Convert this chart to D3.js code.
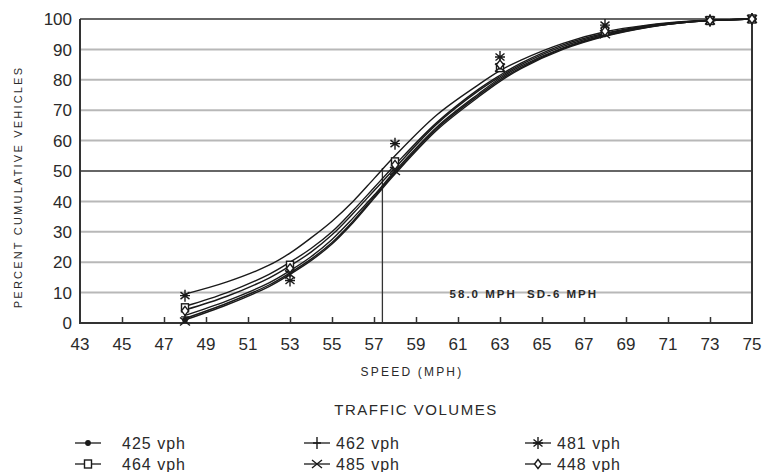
<!DOCTYPE html>
<html>
<head>
<meta charset="utf-8">
<script src="https://cdn.jsdelivr.net/npm/d3@7"></script>
<style>
  body { margin: 0; background: #fff; }
  text { font-family: "Liberation Sans", Arial, sans-serif; fill: #2a2a2a; white-space: pre; }
</style>
</head>
<body>
<div id="chart"></div>
<script>
// observed speeds (mph) where the counts were taken
const speeds = [48, 53, 58, 63, 68, 73, 75];

// percent cumulative vehicles, one list per traffic volume
const v425 = [1, 18, 52, 84, 96, 99.5, 100];
const v462 = [2, 17, 51, 85, 96, 99.5, 100];
const v481 = [9, 14, 59, 87.5, 98, 99.5, 100];
const v464 = [5, 19, 53, 84, 96, 99.5, 100];
const v485 = [0.5, 16, 50, 84, 95, 99.5, 100];
const v448 = [4, 18, 52, 85, 96, 99.5, 100];

// smoothed curves
const curveSpeeds = [48, 50, 52, 53, 54, 55, 56, 57, 58, 60, 62, 63, 64, 66, 68, 70, 72, 73, 75];
const c481 = [9.5, 13.5, 19, 23, 28, 33.5, 40, 47.5, 55, 68.5, 78.5, 83, 86.5, 92, 95.8, 98, 99.3, 99.6, 100];
const c464 = [5.5, 10, 16, 20, 24.5, 30, 37, 44.5, 52, 66, 77, 81.5, 85.5, 91.5, 95.3, 97.8, 99.2, 99.5, 100];
const c448 = [4.3, 8.8, 14.8, 18.8, 23.3, 29, 36, 43.5, 51, 65.5, 76.5, 81, 85, 91, 95, 97.6, 99.1, 99.5, 100];
const c462 = [2.5, 7.3, 13.2, 17.2, 21.8, 27.5, 34.5, 42, 50, 64.5, 75.5, 80.5, 84.5, 90.5, 94.7, 97.4, 99, 99.5, 100];
const c425 = [1.5, 6.5, 12.5, 16.5, 21, 26.5, 33.5, 41.5, 49.5, 64, 75, 80, 84, 90.3, 94.5, 97.3, 99, 99.5, 100];
const c485 = [1, 6, 12, 16, 20.5, 26, 33, 41, 49, 63.5, 74.5, 79.5, 83.7, 90, 94.3, 97.2, 99, 99.5, 100];

const series = [
  { name: "425 vph", symbol: "dot", points: v425, curve: c425 },
  { name: "462 vph", symbol: "plus", points: v462, curve: c462 },
  { name: "481 vph", symbol: "star", points: v481, curve: c481 },
  { name: "464 vph", symbol: "square", points: v464, curve: c464 },
  { name: "485 vph", symbol: "cross", points: v485, curve: c485 },
  { name: "448 vph", symbol: "diamond", points: v448, curve: c448 }
];

const xTicks = d3.range(43, 76, 2);
const yTicks = d3.range(0, 101, 10);
const medianSpeed = 57.4;
const medianPct = 51;
const note = "58.0 MPH  SD-6 MPH";

const width = 764, height = 472;
const margin = { left: 80, right: 12, top: 19, bottom: 149 };

const svg = d3.select("#chart").append("svg")
  .attr("width", width)
  .attr("height", height);

const x = d3.scaleLinear().domain([43, 75]).range([margin.left, width - margin.right]);
const y = d3.scaleLinear().domain([0, 100]).range([height - margin.bottom, margin.top]);

// gridlines
svg.append("g")
  .selectAll("line")
  .data(yTicks.filter((d) => d > 0))
  .join("line")
  .attr("x1", x(43))
  .attr("x2", x(75))
  .attr("y1", (d) => y(d))
  .attr("y2", (d) => y(d))
  .attr("stroke", (d) => (d === 50 || d === 100 ? "#333" : "#b8b8b8"))
  .attr("stroke-width", (d) => (d === 50 || d === 100 ? 1.6 : 2));

// y labels
svg.append("g")
  .selectAll("text")
  .data(yTicks)
  .join("text")
  .attr("x", margin.left - 8)
  .attr("y", (d) => y(d))
  .attr("dy", "0.36em")
  .attr("text-anchor", "end")
  .attr("font-size", 17)
  .text((d) => d);

// x axis with inward ticks
const xAxis = svg.append("g")
  .attr("transform", `translate(0,${y(0)})`)
  .call(d3.axisTop(x).tickValues(xTicks.slice(1, -1)).tickSize(6).tickFormat(""));
xAxis.select(".domain").remove();
xAxis.selectAll("line").attr("stroke", "#333").attr("stroke-width", 1.5);

svg.append("g")
  .selectAll("text")
  .data(xTicks)
  .join("text")
  .attr("x", (d) => x(d))
  .attr("y", y(0) + 21)
  .attr("dy", "0.36em")
  .attr("text-anchor", "middle")
  .attr("font-size", 17)
  .text((d) => d);

// frame: left, bottom, right
svg.append("path")
  .attr("d", `M${x(43)},${y(100)}V${y(0)}H${x(75)}V${y(100)}`)
  .attr("fill", "none")
  .attr("stroke", "#333")
  .attr("stroke-width", 2);

// median line
svg.append("line")
  .attr("x1", x(medianSpeed))
  .attr("x2", x(medianSpeed))
  .attr("y1", y(0))
  .attr("y2", y(medianPct))
  .attr("stroke", "#333")
  .attr("stroke-width", 1.3);

// curves
const line = d3.line()
  .x((d) => x(d[0]))
  .y((d) => y(d[1]))
  .curve(d3.curveCatmullRom.alpha(0.5));

svg.append("g")
  .selectAll("path")
  .data(series)
  .join("path")
  .attr("d", (s) => line(curveSpeeds.map((v, i) => [v, s.curve[i]])))
  .attr("fill", "none")
  .attr("stroke", "#1a1a1a")
  .attr("stroke-width", 1.4);

// markers
function drawMarker(g, symbol) {
  const st = { stroke: "#1a1a1a", "stroke-width": 1.4 };
  const add = (tag, attrs) => {
    const el = g.append(tag);
    Object.entries({ ...st, ...attrs }).forEach(([k, v]) => el.attr(k, v));
  };
  if (symbol === "dot") {
    add("circle", { r: 2.2, fill: "#1a1a1a" });
  } else if (symbol === "plus") {
    add("path", { d: "M0,-6V6M-4,0H4", fill: "none" });
  } else if (symbol === "star") {
    add("path", { d: "M0,-6V6M-4.5,-3.5L4.5,3.5M-4.5,3.5L4.5,-3.5M-5,0H5", fill: "none" });
  } else if (symbol === "square") {
    add("rect", { x: -3.5, y: -4, width: 7, height: 8, fill: "#fff" });
  } else if (symbol === "cross") {
    add("path", { d: "M-5,-4L5,4M-5,4L5,-4", fill: "none" });
  } else if (symbol === "diamond") {
    add("path", { d: "M0,-4.5L3.5,0L0,4.5L-3.5,0Z", fill: "#fff" });
  }
}

series.forEach((s) => {
  const g = svg.append("g");
  speeds.forEach((sp, i) => {
    const m = g.append("g").attr("transform", `translate(${x(sp)},${y(s.points[i])})`);
    drawMarker(m, s.symbol);
  });
});

// annotation
svg.append("text")
  .attr("x", x(60.6))
  .attr("y", y(8.3))
  .attr("font-size", 11.5)
  .attr("font-weight", "bold")
  .attr("letter-spacing", 2)
  .text(note);

// axis titles
svg.append("text")
  .attr("transform", `translate(22,${(y(0) + y(100)) / 2 + 16}) rotate(-90)`)
  .attr("text-anchor", "middle")
  .attr("font-size", 11)
  .attr("letter-spacing", 2.2)
  .text("PERCENT CUMULATIVE VEHICLES");

svg.append("text")
  .attr("x", 412)
  .attr("y", 376)
  .attr("text-anchor", "middle")
  .attr("font-size", 12)
  .attr("letter-spacing", 2.2)
  .text("SPEED (MPH)");

svg.append("text")
  .attr("x", 416)
  .attr("y", 415)
  .attr("text-anchor", "middle")
  .attr("font-size", 15)
  .attr("letter-spacing", 1.5)
  .text("TRAFFIC VOLUMES");

// legend, three columns
const colX = [75, 304, 525];
const rowY = [443, 464];
series.forEach((s, i) => {
  const col = i % 3;
  const lx = colX[col], ly = rowY[Math.floor(i / 3)];
  const g = svg.append("g").attr("transform", `translate(${lx},${ly})`);
  g.append("line")
    .attr("x1", 0).attr("x2", 26)
    .attr("stroke", "#1a1a1a").attr("stroke-width", 1.3);
  drawMarker(g.append("g").attr("transform", "translate(13,0)"), s.symbol);
  g.append("text")
    .attr("x", col === 0 ? 47 : 32)
    .attr("dy", "0.36em")
    .attr("font-size", 16)
    .attr("letter-spacing", 1)
    .text(s.name);
});
</script>
</body>
</html>
